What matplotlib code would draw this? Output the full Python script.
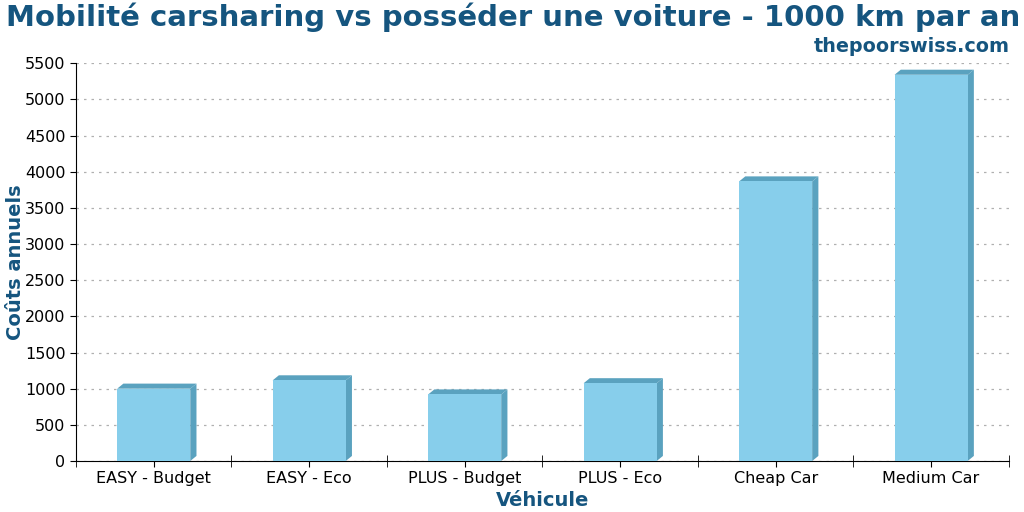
import matplotlib
matplotlib.use("Agg")
import matplotlib.pyplot as plt
from matplotlib.patches import Polygon

vehicles = ["EASY - Budget", "EASY - Eco", "PLUS - Budget", "PLUS - Eco", "Cheap Car", "Medium Car"]
costs = [1000, 1115, 920, 1075, 3865, 5340]

FRONT = "#87ceeb"
SIDE = "#5aa2bf"
BLUE = "#15557f"

fig = plt.figure(figsize=(10.24, 5.12), dpi=100)
ax = fig.add_axes([0.0742, 0.0996, 0.911, 0.777])

x = list(range(len(vehicles)))
width = 0.47
ax.bar(x, costs, width=width, color=FRONT, zorder=3)

# fake 3D: top and right faces
dx, dy = 0.04, 70
for xi, h in zip(x, costs):
    x0, x1 = xi - width / 2, xi + width / 2
    top = Polygon([(x0, h), (x0 + dx, h + dy), (x1 + dx, h + dy), (x1, h)],
                  closed=True, facecolor=SIDE, edgecolor="none", zorder=2)
    side = Polygon([(x1, 0), (x1 + dx, dy), (x1 + dx, h + dy), (x1, h)],
                   closed=True, facecolor=SIDE, edgecolor="none", zorder=2)
    ax.add_patch(top)
    ax.add_patch(side)

ax.set_xlim(-0.5, len(vehicles) - 0.5)
ax.set_ylim(0, 5500)
ax.set_yticks(range(0, 5501, 500))
ax.set_xticks(x)
ax.set_xticklabels(vehicles, fontsize=11.5)
ax.set_xticks([i - 0.5 for i in range(len(vehicles) + 1)], minor=True)
ax.tick_params(axis="x", which="major", direction="out", length=4)
ax.tick_params(axis="x", which="minor", direction="inout", length=9)
ax.tick_params(axis="y", labelsize=11.5, direction="out", length=4)

ax.grid(True, axis="y", color="#b0b0b0", linestyle=(0, (2, 4)), linewidth=0.9, zorder=0)
ax.spines["top"].set_visible(False)
ax.spines["right"].set_visible(False)

ax.set_xlabel("Véhicule", fontsize=14, fontweight="bold", color=BLUE, labelpad=3)
ax.set_ylabel("Coûts annuels", fontsize=14, fontweight="bold", color=BLUE, labelpad=0)

fig.text(0.501, 0.966, "Mobilité carsharing vs posséder une voiture - 1000 km par an",
         ha="center", va="center", fontsize=21, fontweight="bold", color=BLUE)
fig.text(0.986, 0.91, "thepoorswiss.com", ha="right", va="center",
         fontsize=13.8, fontweight="bold", color=BLUE)

fig.savefig("out.png", dpi=100)
